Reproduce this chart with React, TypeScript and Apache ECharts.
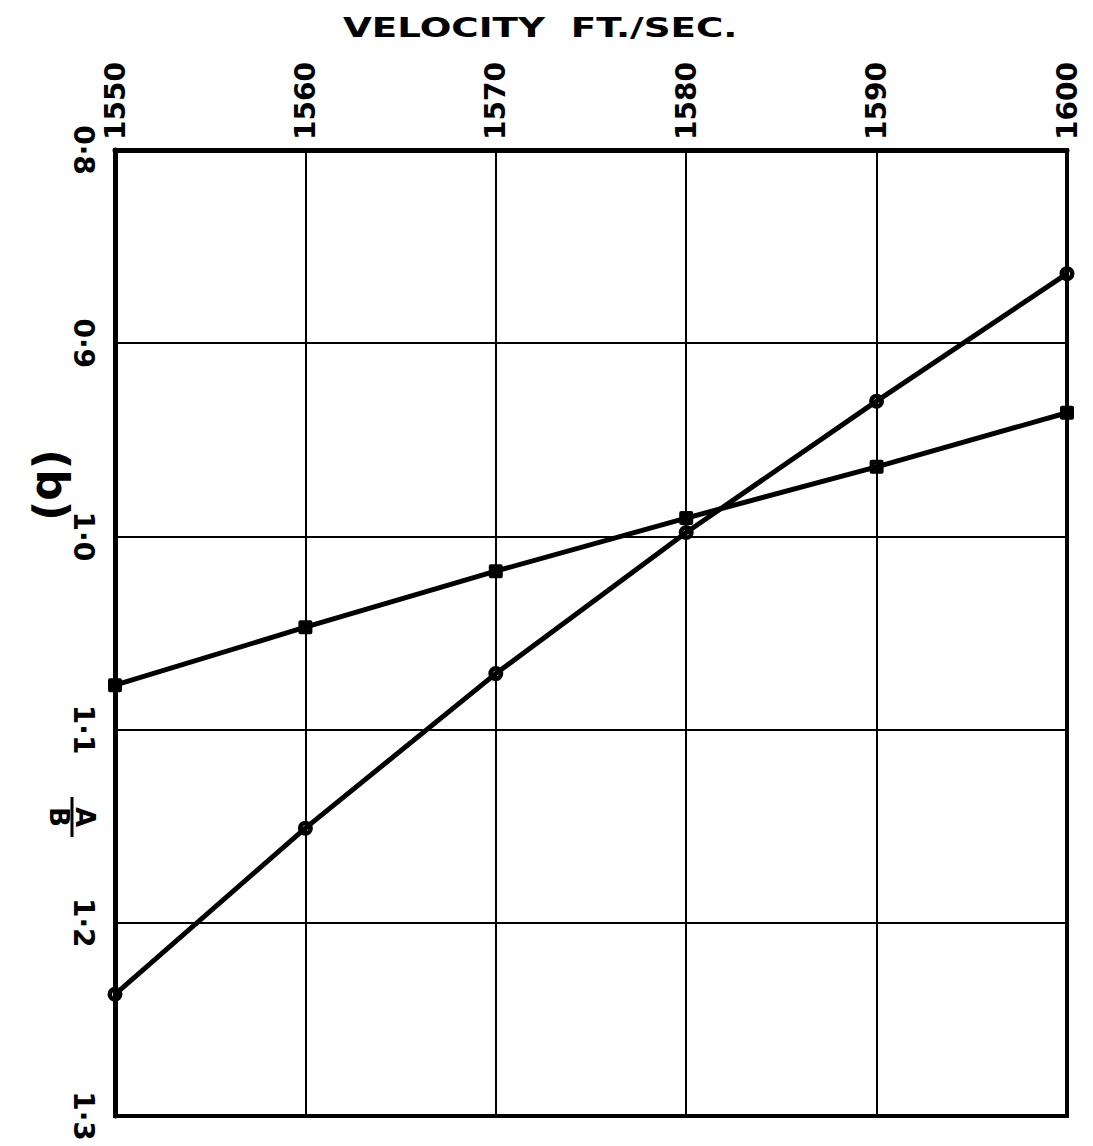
import React, { useEffect, useRef } from "react";
import * as echarts from "echarts";

// Velocity (ft/sec) at which each ratio A/B was measured
const velocity = [1550, 1560, 1570, 1580, 1590, 1600];
// A/B ratio, series plotted with circles
const ratioCircle = [1.237, 1.151, 1.071, 0.998, 0.93, 0.864];
// A/B ratio, series plotted with squares
const ratioSquare = [1.077, 1.047, 1.018, 0.9905, 0.964, 0.936];

const FONT = "DejaVu Sans";
const INK = "#000";

// Heavy ring marker: outer circle clockwise, hole counter-clockwise
const RING_SYMBOL =
  "path://M7,0 A7,7 0 1,1 7,14 A7,7 0 1,1 7,0 Z M7,4.3 A2.7,2.7 0 1,0 7,9.7 A2.7,2.7 0 1,0 7,4.3 Z";
// Heavy square marker with a small hole
const BOX_SYMBOL =
  "path://M0,2 Q0,0 2,0 L12,0 Q14,0 14,2 L14,12 Q14,14 12,14 L2,14 Q0,14 0,12 Z M5,5 L5,9 L9,9 L9,5 Z";

function fmtRatio(v: number) {
  return v.toFixed(1).replace(".", "·");
}

export default function App() {
  const ref = useRef<HTMLDivElement>(null);

  useEffect(() => {
    if (!ref.current) return;
    const chart = echarts.init(ref.current, null, { renderer: "svg" });

    const rot = -Math.PI / 2;

    chart.setOption({
      animation: false,
      backgroundColor: "#fff",
      grid: {
        left: 115,
        top: 150,
        width: 952,
        height: 966,
        show: true,
        borderColor: INK,
        borderWidth: 4,
        backgroundColor: "transparent",
      },
      xAxis: {
        type: "value",
        position: "top",
        min: 1550,
        max: 1600,
        interval: 10,
        axisLine: { show: true, lineStyle: { color: INK, width: 5 } },
        axisTick: { show: false },
        splitLine: { show: true, lineStyle: { color: INK, width: 2 } },
        axisLabel: {
          rotate: -90,
          margin: 10,
          color: INK,
          fontFamily: FONT,
          fontWeight: "bold",
          fontSize: 28,
          formatter: (v: number) => String(v),
        },
      },
      yAxis: {
        type: "value",
        inverse: true,
        min: 0.8,
        max: 1.3,
        interval: 0.1,
        axisLine: { show: true, lineStyle: { color: INK, width: 5 } },
        axisTick: { show: false },
        splitLine: { show: true, lineStyle: { color: INK, width: 2 } },
        axisLabel: {
          rotate: -90,
          margin: 18,
          color: INK,
          fontFamily: FONT,
          fontWeight: "bold",
          fontSize: 28,
          formatter: (v: number) => fmtRatio(v),
        },
      },
      series: [
        {
          type: "line",
          data: velocity.map((x, i) => [x, ratioCircle[i]]),
          symbol: RING_SYMBOL,
          symbolSize: 15,
          lineStyle: { color: INK, width: 5 },
          itemStyle: { color: INK, borderWidth: 0 },
          z: 5,
        },
        {
          type: "line",
          data: velocity.map((x, i) => [x, ratioSquare[i]]),
          symbol: BOX_SYMBOL,
          symbolSize: 14,
          lineStyle: { color: INK, width: 5 },
          itemStyle: { color: INK, borderWidth: 0 },
          z: 5,
        },
      ],
      graphic: [
        {
          type: "text",
          x: 343,
          y: 28,
          scaleX: 1.38,
          style: {
            text: "VELOCITY  FT./SEC.",
            fill: INK,
            font: `bold 27px "${FONT}"`,
            align: "left",
            verticalAlign: "middle",
          },
        },
        {
          type: "text",
          x: 52,
          y: 485,
          rotation: rot,
          style: {
            text: "(b)",
            fill: INK,
            font: `bold 44px "${FONT}"`,
            align: "center",
            verticalAlign: "middle",
          },
        },
        {
          type: "group",
          x: 72,
          y: 817,
          rotation: rot,
          children: [
            {
              type: "text",
              x: 0,
              y: -13,
              style: {
                text: "A",
                fill: INK,
                font: `bold 26px "${FONT}"`,
                align: "center",
                verticalAlign: "middle",
              },
            },
            {
              type: "line",
              shape: { x1: -20, y1: 0, x2: 20, y2: 0 },
              style: { stroke: INK, lineWidth: 3 },
            },
            {
              type: "text",
              x: 0,
              y: 13,
              style: {
                text: "B",
                fill: INK,
                font: `bold 26px "${FONT}"`,
                align: "center",
                verticalAlign: "middle",
              },
            },
          ],
        },
      ],
    });

    return () => chart.dispose();
  }, []);

  return (
    <div
      ref={ref}
      style={{ position: "fixed", left: 0, top: 0, width: 1093, height: 1146 }}
    />
  );
}
